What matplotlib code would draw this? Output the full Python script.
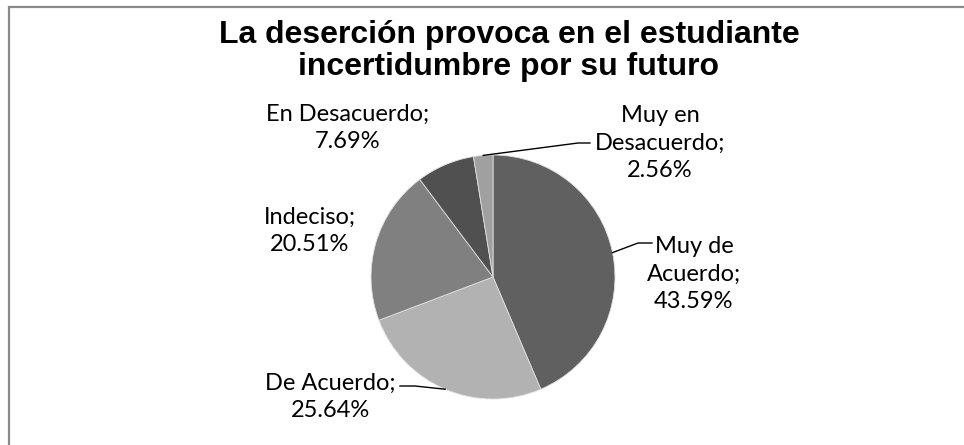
import numpy as np
import matplotlib as mpl
mpl.use('Agg')
import matplotlib.pyplot as plt
from matplotlib.patches import Rectangle

# data
categories = ['Muy de\nAcuerdo', 'De Acuerdo', 'Indeciso', 'En Desacuerdo', 'Muy en\nDesacuerdo']
values = [43.59, 25.64, 20.51, 7.69, 2.56]
colors = ['#606060', '#b2b2b2', '#808080', '#505050', '#a0a0a0']
title = 'La deserción provoca en el estudiante\nincertidumbre por su futuro'

W, H = 964, 445
fig = plt.figure(figsize=(W / 100, H / 100), dpi=100)
ax = fig.add_axes([0, 0, 1, 1])

# outer frame (right and bottom edges fall outside the picture)
ax.add_patch(Rectangle((9, -10), 1000, H - 7 + 10, fill=False, edgecolor='#8a8a8a', linewidth=1.6))

cx, cy, r = 493, H - 277, 122
wedges, _ = ax.pie(values, colors=colors, startangle=90, counterclock=False,
                   center=(cx, cy), radius=r, frame=True,
                   wedgeprops=dict(edgecolor='#e0e0e0', linewidth=0.6))
ax.set_xlim(0, W)
ax.set_ylim(0, H)
ax.set_aspect('equal')
ax.axis('off')

ax.text(509, H - 51, title, ha='center', va='center', fontsize=23, fontweight='bold',
        family='Liberation Sans', linespacing=1.12)

# label layout (text centre, optional leader elbow and end)
label_pos = [(694, H - 274), (330, H - 397), (310, H - 231), (348, H - 128), (660, H - 143)]
leaders = [((638, H - 243), (652, H - 243)),
           ((415, H - 386), (400, H - 386)),
           None, None,
           ((578, H - 143), (590, H - 143))]

for w, cat, v, pos, ld in zip(wedges, categories, values, label_pos, leaders):
    ax.text(pos[0], pos[1], f'{cat};\n{v:.2f}%', ha='center', va='center',
            fontsize=17, family='Lato', linespacing=1.4, color='black')
    if ld is not None:
        mid = np.deg2rad((w.theta1 + w.theta2) / 2)
        ex, ey = cx + r * np.cos(mid), cy + r * np.sin(mid)
        ax.plot([ex, ld[0][0], ld[1][0]], [ey, ld[0][1], ld[1][1]], color='black', linewidth=1)

fig.savefig('out.png', dpi=100, facecolor='white')
